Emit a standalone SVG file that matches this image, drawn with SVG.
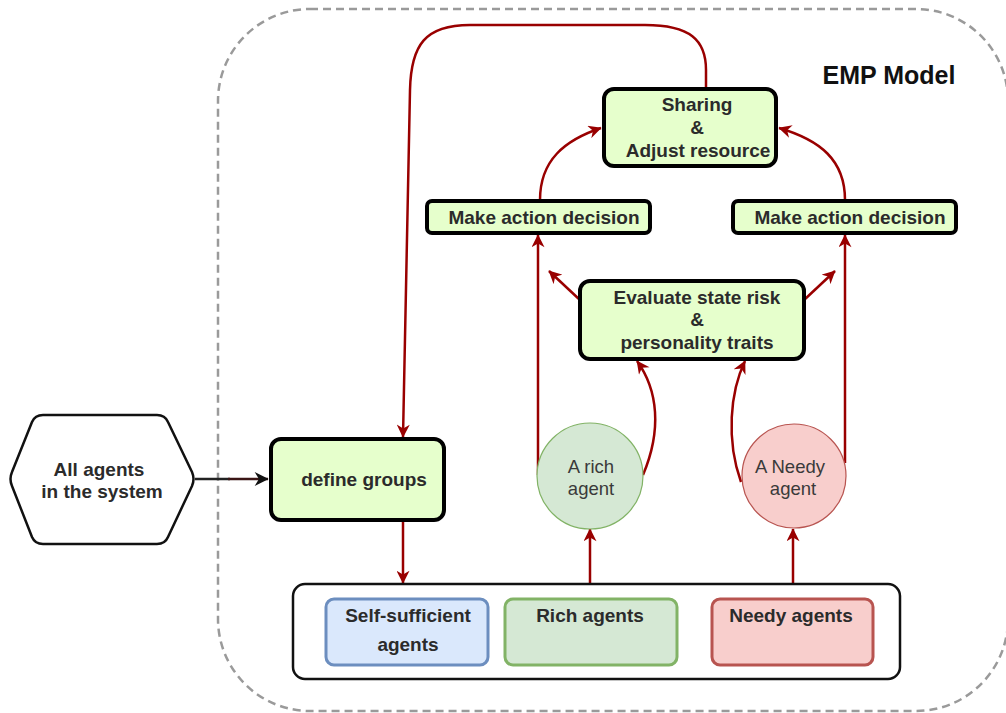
<svg xmlns="http://www.w3.org/2000/svg" width="1006" height="713" viewBox="0 0 1006 713">
  <defs>
    <marker id="arrowRed" viewBox="0 0 10 10" refX="9.5" refY="5" markerWidth="14" markerHeight="13" markerUnits="userSpaceOnUse" orient="auto">
      <path d="M0,0 L10,5 L0,10 L3,5 z" fill="#990000"/>
    </marker>
    <marker id="arrowBlack" viewBox="0 0 10 10" refX="9.5" refY="5" markerWidth="16" markerHeight="14" markerUnits="userSpaceOnUse" orient="auto">
      <path d="M0,0 L10,5 L0,10 L3,5 z" fill="#111111"/>
    </marker>
    <style>
      .t { font-family: "Liberation Sans", Arial, Helvetica, sans-serif; font-size: 19px; text-anchor: middle; }
      .b { font-weight: bold; fill: #2b2b2b; }
      .n { font-weight: normal; fill: #3a3a3a; font-size: 18.5px; }
      .step { fill: #e6ffcc; stroke: #000000; stroke-width: 4; }
      .edge { fill: none; stroke: #990000; stroke-width: 2.5; marker-end: url(#arrowRed); }
    </style>
  </defs>

  <!-- model boundary -->
  <g id="emp-model">
    <rect x="218" y="9" width="790" height="702" rx="92" ry="92" fill="none" stroke="#9a9a9a" stroke-width="2.5" stroke-dasharray="8 5"/>
    <text class="t" x="889" y="84" style="font-size:25px;font-weight:bold;fill:#111111">EMP Model</text>
  </g>

  <!-- connectors -->
  <g id="connectors">
    <path d="M195 479 L230 479" fill="none" stroke="#222222" stroke-width="2.5"/>
    <path d="M228 479 L268 479" fill="none" stroke="#3a1515" stroke-width="2.5" marker-end="url(#arrowBlack)"/>
    <path class="edge" d="M706 88 L706 70 C706 40 690 25 645 25 L470 25 C425 25 411 45 410 90 L403 437"/>
    <path class="edge" d="M403 520 L403 583"/>
    <path class="edge" d="M590 584 L590 529"/>
    <path class="edge" d="M793 584 L793 529"/>
    <path class="edge" d="M538 475 L538 235"/>
    <path class="edge" d="M845 463 L845 235"/>
    <path class="edge" d="M643 475 C662 430 658 390 637 361"/>
    <path class="edge" d="M741 482 C726 440 730 392 745 361"/>
    <path class="edge" d="M580 300 L549 271"/>
    <path class="edge" d="M804 300 L835 271"/>
    <path class="edge" d="M540 200 C540 160 565 140 601 128"/>
    <path class="edge" d="M845 200 C845 160 820 140 779 128"/>
  </g>

  <g id="all-agents">
    <path d="M12 472 L32 422 Q35 415 43 415 L157 415 Q165 415 168 422 L192 472 Q195 479 192 486 L168 537 Q165 544 157 544 L43 544 Q35 544 32 537 L12 486 Q9 479 12 472 Z" fill="#ffffff" stroke="#111111" stroke-width="2.5"/>
    <text class="t b" x="99" y="476">All agents</text>
    <text class="t b" x="102" y="498">in the system</text>
  </g>

  <g id="define-groups">
    <rect class="step" x="271" y="439" width="173" height="81" rx="10"/>
    <text class="t b" x="364" y="486">define groups</text>
  </g>

  <g id="sharing">
    <rect class="step" x="604" y="89" width="172" height="77" rx="10"/>
    <text class="t b" x="697" y="111">Sharing</text>
    <text class="t b" x="697" y="134">&amp;</text>
    <text class="t b" x="698" y="157">Adjust resource</text>
  </g>

  <g id="decision-rich">
    <rect class="step" x="427" y="201" width="223" height="32" rx="5"/>
    <text class="t b" x="544" y="224">Make action decision</text>
  </g>

  <g id="decision-needy">
    <rect class="step" x="733" y="201" width="223" height="32" rx="5"/>
    <text class="t b" x="850" y="224">Make action decision</text>
  </g>

  <g id="evaluate">
    <rect class="step" x="580" y="281" width="224" height="78" rx="10"/>
    <text class="t b" x="697" y="304">Evaluate state risk</text>
    <text class="t b" x="697" y="326">&amp;</text>
    <text class="t b" x="697" y="349">personality traits</text>
  </g>

  <g id="rich-agent">
    <circle cx="590" cy="476" r="53" fill="#d5e8d4" stroke="#82b366" stroke-width="1.2"/>
    <text class="t n" x="591" y="473">A rich</text>
    <text class="t n" x="591" y="495">agent</text>
  </g>

  <g id="needy-agent">
    <circle cx="794" cy="476" r="52" fill="#f8cecc" stroke="#b85450" stroke-width="1.2"/>
    <text class="t n" x="790" y="473">A Needy</text>
    <text class="t n" x="793" y="495">agent</text>
  </g>

  <g id="agent-groups">
    <rect x="293" y="584" width="607" height="95" rx="12" fill="#ffffff" stroke="#111111" stroke-width="2.5"/>
  </g>

  <g id="self-sufficient">
    <rect x="326" y="599" width="162" height="66" rx="8" fill="#dae8fc" stroke="#6c8ebf" stroke-width="3"/>
    <text class="t b" x="408" y="622">Self-sufficient</text>
    <text class="t b" x="408" y="651">agents</text>
  </g>

  <g id="rich-agents">
    <rect x="505" y="599" width="172" height="66" rx="8" fill="#d5e8d4" stroke="#82b366" stroke-width="3"/>
    <text class="t b" x="590" y="622">Rich agents</text>
  </g>

  <g id="needy-agents">
    <rect x="712" y="599" width="161" height="66" rx="8" fill="#f8cecc" stroke="#b85450" stroke-width="3"/>
    <text class="t b" x="791" y="622">Needy agents</text>
  </g>
</svg>
